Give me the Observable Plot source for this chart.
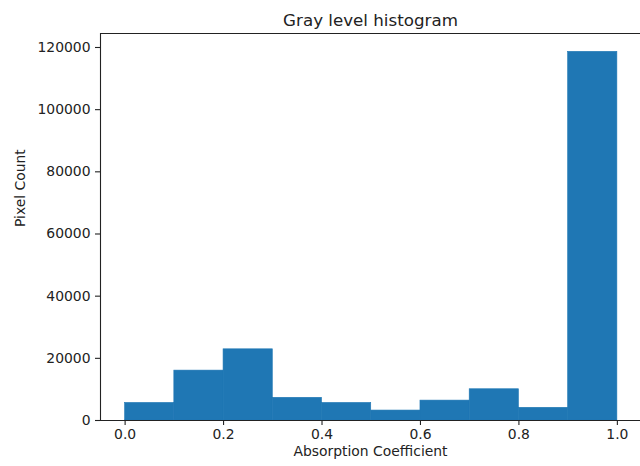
<!DOCTYPE html>
<html>
<head>
<meta charset="utf-8">
<script src="https://cdn.jsdelivr.net/npm/d3@7"></script>
<script src="https://cdn.jsdelivr.net/npm/@observablehq/plot@0.6"></script>
<style>
  html, body { margin: 0; padding: 0; background: #fff; }
  svg { display: block; }
</style>
</head>
<body>
<div id="chart"></div>
<script>
const binStarts = [0.0, 0.1, 0.2, 0.3, 0.4, 0.5, 0.6, 0.7, 0.8, 0.9];
const binEnds   = [0.1, 0.2, 0.3, 0.4, 0.5, 0.6, 0.7, 0.8, 0.9, 1.0];
const counts    = [5650, 16050, 22900, 7300, 5650, 3200, 6400, 10050, 4080, 118600];
const xTicks = [0.0, 0.2, 0.4, 0.6, 0.8, 1.0];
const yTicks = [0, 20000, 40000, 60000, 80000, 100000, 120000];
const title = "Gray level histogram";
const xLabel = "Absorption Coefficient";
const yLabel = "Pixel Count";

const bars = binStarts.map((s, i) => ({x1: s, x2: binEnds[i], y: counts[i]}));
const yMax = 124500;
const font = "DejaVu Sans";
const ink = "#222";

const chart = Plot.plot({
  width: 640,
  height: 466,
  marginLeft: 100,
  marginRight: 0,
  marginTop: 33,
  marginBottom: 46,
  style: {fontFamily: font, fontSize: "13.9px", color: ink, background: "#fff"},
  x: {domain: [-0.05, 1.047]},
  y: {domain: [0, yMax]},
  marks: [
    Plot.rectY(bars, {x1: "x1", x2: "x2", y: "y", fill: "#1f77b4", stroke: "#1f77b4", strokeWidth: 0.6, inset: 0}),
    Plot.ruleX([-0.05], {stroke: ink, strokeWidth: 1.1}),
    Plot.ruleY([0], {stroke: ink, strokeWidth: 1.1}),
    Plot.ruleY([yMax], {stroke: ink, strokeWidth: 1.1}),
    Plot.axisX({ticks: xTicks, tickFormat: d3.format(".1f"), tickSize: 5, tickPadding: 4, fontSize: 13.9, label: null, strokeWidth: 1.1}),
    Plot.axisY({ticks: yTicks, tickFormat: d3.format("d"), tickSize: 5, tickPadding: 5, fontSize: 13.9, label: null, strokeWidth: 1.1}),
    Plot.text([title], {frameAnchor: "top", dy: -8, lineAnchor: "bottom", fontSize: 16.7, fill: ink}),
    Plot.text([xLabel], {frameAnchor: "bottom", dy: 35, fontSize: 13.9, fill: ink}),
    Plot.text([yLabel], {frameAnchor: "left", dx: -80, rotate: -90, fontSize: 13.9, fill: ink})
  ]
});
document.getElementById("chart").appendChild(chart);
</script>
</body>
</html>
